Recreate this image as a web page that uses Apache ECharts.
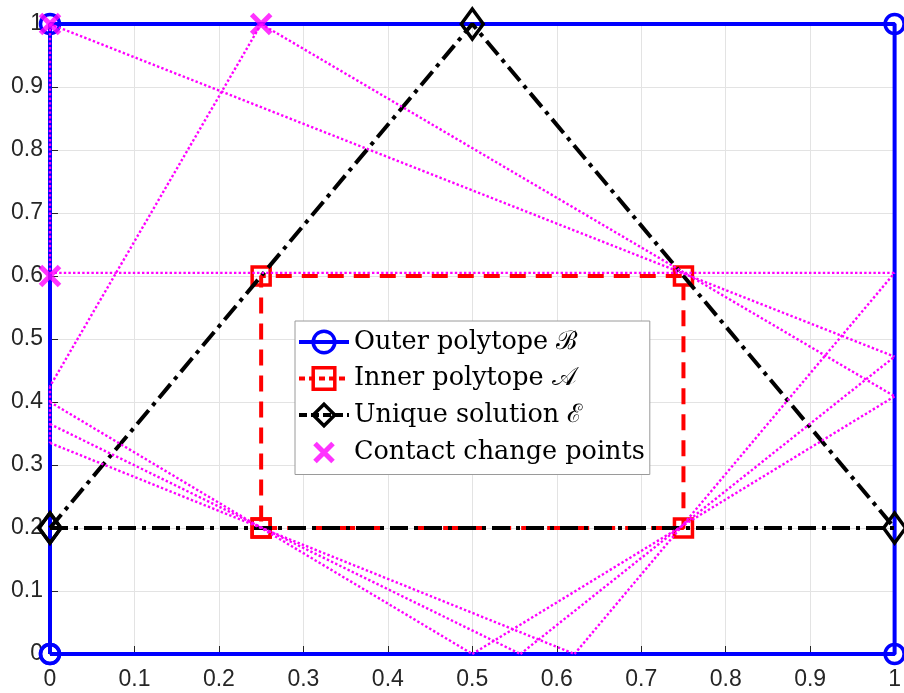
<!DOCTYPE html>
<html>
<head>
<meta charset="utf-8">
<script src="https://cdn.jsdelivr.net/npm/echarts@6/dist/echarts.min.js"></script>
<style>
html,body{margin:0;padding:0;background:#fff;}
#c{width:904px;height:693px;}
</style>
</head>
<body>
<div id="c"></div>
<script>
// ---- data ----
const tickLabels = ['0','0.1','0.2','0.3','0.4','0.5','0.6','0.7','0.8','0.9','1'];
const outerX = [0, 1, 1, 0, 0];
const outerY = [0, 0, 1, 1, 0];
const innerX = [0.25, 0.75, 0.75, 0.25, 0.25];
const innerY = [0.2, 0.2, 0.6, 0.6, 0.2];
const solX = [0, 1, 0.5, 0];
const solY = [0.2, 0.2, 1, 0.2];
const contactX = [0, 0.25, 0];
const contactY = [1, 1, 0.6];
// dotted contact-change paths: start x, start y, end x, end y
const pathX1 = [0, 0.25, 0.25, 0, 0, 0, 0, 0.5, 0.557, 0.621, 0, 0];
const pathY1 = [1, 1, 1, 0.605, 0.4, 0.365, 0.335, 0, 0, 0, 1, 0.425];
const pathX2 = [1, 1, 0, 1, 0.5, 0.557, 0.621, 1, 1, 1, 0, 0];
const pathY2 = [0.472, 0.409, 0.425, 0.605, 0, 0, 0, 0.409, 0.472, 0.605, 0.605, 0.335];
const legendNames = ['Outer polytope ℬ', 'Inner polytope 𝒜', 'Unique solution ℰ', 'Contact change points'];

const zip = (xs, ys) => xs.map((x, i) => [x, ys[i]]);
const xPath = 'path://M0,0L10,10M10,0L0,10';
const xLegendPath = 'path://M-2.5,-2.5L-2.5,-2.5M0,0L10,10M10,0L0,10M12.5,12.5L12.5,12.5';

const series = [
  {
    name: legendNames[0], type: 'line', data: zip(outerX, outerY), clip: false, z: 2,
    symbol: 'circle', symbolSize: 19,
    lineStyle: {color: '#0000ff', width: 4, type: 'solid'},
    itemStyle: {color: 'rgba(0,0,0,0)', borderColor: '#0000ff', borderWidth: 3.5},
    emphasis: {disabled: true}
  },
  {
    name: legendNames[1], type: 'line', data: zip(innerX, innerY), clip: false, z: 3,
    symbol: 'rect', symbolSize: 18,
    lineStyle: {color: '#ff0000', width: 4, type: [16, 10]},
    itemStyle: {color: 'rgba(0,0,0,0)', borderColor: '#ff0000', borderWidth: 3.5},
    emphasis: {disabled: true}
  },
  {
    name: legendNames[2], type: 'line', data: zip(solX, solY), clip: false, z: 4,
    symbol: 'diamond', symbolSize: [22, 30],
    lineStyle: {color: '#000000', width: 4, type: [18, 6, 4, 6]},
    itemStyle: {color: 'rgba(0,0,0,0)', borderColor: '#000000', borderWidth: 3.5},
    emphasis: {disabled: true}
  }
];
for (let i = 0; i < pathX1.length; i++) {
  series.push({
    type: 'line', data: [[pathX1[i], pathY1[i]], [pathX2[i], pathY2[i]]], clip: false, z: 5,
    symbol: 'none', silent: true,
    lineStyle: {color: '#ff00ff', width: 2.4, type: [2.4, 2.2]}
  });
}
series.push({
  name: legendNames[3], type: 'scatter', data: zip(contactX, contactY), clip: false, z: 6,
  symbol: xPath, symbolSize: 19,
  itemStyle: {color: 'rgba(0,0,0,0)', borderColor: '#ff00ff', borderWidth: 5},
  emphasis: {disabled: true}
});

const axisCommon = {
  type: 'value', min: 0, max: 1, interval: 0.1,
  axisLine: {show: true, lineStyle: {color: '#262626', width: 1}},
  axisTick: {show: true, inside: true, length: 8, lineStyle: {color: '#262626'}},
  splitLine: {show: true, lineStyle: {color: '#e3e3e3', width: 1}},
  axisLabel: {
    color: '#262626', fontFamily: 'Liberation Sans', fontSize: 23,
    formatter: v => tickLabels[Math.round(v * 10)]
  }
};

const chart = echarts.init(document.getElementById('c'), null, {renderer: 'canvas'});
chart.setOption({
  animation: false,
  backgroundColor: '#ffffff',
  grid: {left: 50, right: 7, top: 24, bottom: 39, containLabel: false},
  xAxis: Object.assign({}, axisCommon, {axisLabel: Object.assign({}, axisCommon.axisLabel, {margin: 14})}),
  yAxis: Object.assign({}, axisCommon, {axisLabel: Object.assign({}, axisCommon.axisLabel, {margin: 7})}),
  legend: {
    data: [
      {name: legendNames[0]},
      {name: legendNames[1], lineStyle: {type: [6, 4]}},
      {name: legendNames[2], lineStyle: {type: [8, 4]}},
      {name: legendNames[3], icon: xLegendPath, itemStyle: {borderWidth: 5}}
    ],
    orient: 'vertical', left: 295, top: 321,
    backgroundColor: '#ffffff', borderColor: '#9a9a9a', borderWidth: 1,
    padding: [6, 5, 6, 2], itemWidth: 50, itemHeight: 27, itemGap: 6.5,
    selectedMode: false,
    lineStyle: {width: 4},
    itemStyle: {borderWidth: 3.5},
    textStyle: {fontFamily: 'DejaVu Serif', fontSize: 25.5, color: '#000', lineHeight: 30}
  },
  series: series
});
</script>
</body>
</html>
